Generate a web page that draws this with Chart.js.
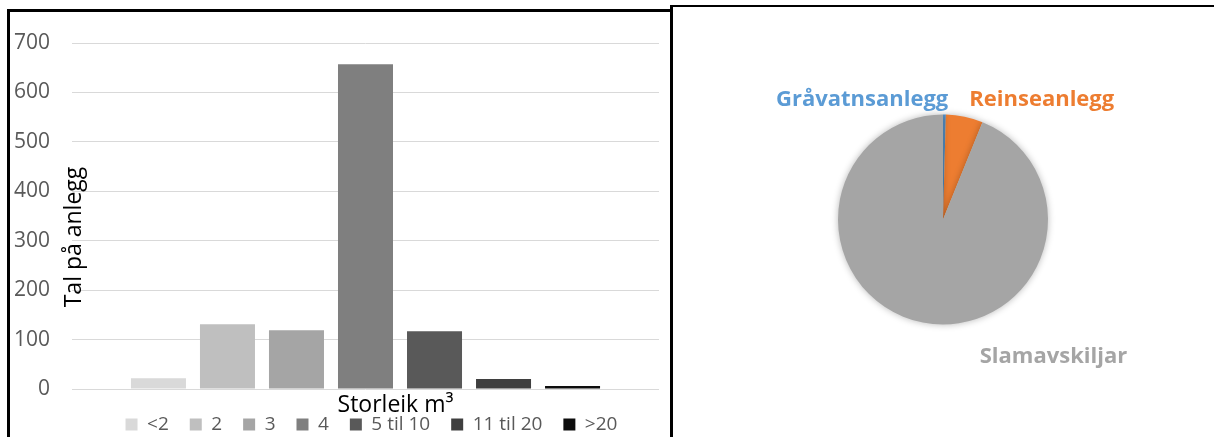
<!DOCTYPE html>
<html>
<head>
<meta charset="utf-8">
<title>Storleik og type anlegg</title>
<script src="https://cdn.jsdelivr.net/npm/chart.js@4.4.1/dist/chart.umd.min.js"></script>
<style>
    html, body { margin: 0; padding: 0; background: #fff; overflow: hidden; width: 1214px; height: 437px; }
    #barBox { position: absolute; left: 7px; top: 9px; width: 660px; height: 440px; border: 3px solid #000; }
    #pieBox { position: absolute; left: 670px; top: 5px; width: 560px; height: 440px; border-top: 2px solid #000; border-left: 3px solid #000; }
    canvas { display: block; }
</style>
</head>
<body>
<div id="barBox"><canvas id="barChart"></canvas></div>
<div id="pieBox"><canvas id="pieChart"></canvas></div>

<script>
// storleik på slamavskiljarar (m3) og tal på anlegg
const sizeLabels = ['<2', '2', '3', '4', '5 til 10', '11 til 20', '>20'];
const sizeCounts = [22, 131, 119, 657, 117, 20, 6];
const sizeColours = ['#d9d9d9', '#bfbfbf', '#a5a5a5', '#7f7f7f', '#595959', '#3f3f3f', '#0d0d0d'];
const yMax = 700;
const yStep = 100;
const yTitle = 'Tal på anlegg';
const xTitle = 'Storleik m\u00b3';

// type anlegg
const typeLabels = ['Gråvatnsanlegg', 'Reinseanlegg', 'Slamavskiljar'];
const typeCounts = [5, 65, 1070];
const typeColours = ['#5b9bd5', '#ed7d31', '#a5a5a5'];

(function() {
    'use strict';

    const FONT = '"Open Sans", "Noto Sans", sans-serif';

    // axis titles drawn the way Excel placed them
    const axisTitles = {
        id: 'axisTitles',
        afterLayout(chart) {
            // Excel's legend sits a little right of the plot centre
            chart.legend.left += 6;
            chart.legend.right += 6;
        },
        afterDraw(chart) {
            const ctx = chart.ctx;
            const area = chart.chartArea;
            ctx.save();
            ctx.fillStyle = '#000';
            ctx.font = '23px ' + FONT;
            ctx.textAlign = 'center';
            ctx.textBaseline = 'middle';
            ctx.save();
            ctx.translate(area.left + 2, (area.top + area.bottom) / 2 + 21);
            ctx.rotate(-Math.PI / 2);
            ctx.fillText(yTitle, 0, 0);
            ctx.restore();
            ctx.textBaseline = 'alphabetic';
            ctx.fillText(xTitle, (area.left + area.right) / 2 + 30, area.bottom + 23);
            ctx.restore();
        }
    };

    function initBarChart() {
        const ctx = document.getElementById('barChart').getContext('2d');
        new Chart(ctx, {
            type: 'bar',
            data: {
                labels: [''],
                datasets: sizeLabels.map(function(label, i) {
                    return {
                        label: label,
                        data: [sizeCounts[i]],
                        backgroundColor: sizeColours[i],
                        borderWidth: 0,
                        categoryPercentage: 0.823,
                        barPercentage: 0.797
                    };
                })
            },
            options: {
                responsive: true,
                maintainAspectRatio: false,
                animation: false,
                layout: { padding: { top: 31, right: 11, bottom: 8, left: 0 } },
                plugins: {
                    legend: {
                        position: 'bottom',
                        fullSize: false,
                        labels: {
                            boxWidth: 12,
                            boxHeight: 12,
                            padding: 21,
                            color: '#595959',
                            font: { family: FONT, size: 19 }
                        }
                    },
                    tooltip: { enabled: false }
                },
                scales: {
                    x: {
                        // only a spacer between plot and legend
                        afterFit: function(scale) { scale.height = 5; },
                        border: { display: false },
                        grid: { display: false },
                        ticks: { display: false }
                    },
                    y: {
                        min: 0,
                        max: yMax,
                        afterFit: function(scale) { scale.width = 62; },
                        border: { display: false },
                        // invisible tick marks push the labels left without padding the top
                        grid: { color: '#d9d9d9', tickLength: 18, tickColor: 'rgba(0,0,0,0)' },
                        ticks: {
                            stepSize: yStep,
                            padding: 4,
                            color: '#595959',
                            font: { family: FONT, size: 21 }
                        }
                    }
                }
            },
            plugins: [axisTitles]
        });
    }

    // where each slice's label sits, in pie radii from the centre
    const labelPlacement = [
        { dx: 0.05, dy: -1.08, align: 'right' },
        { dx: 0.25, dy: -1.08, align: 'left' },
        { dx: 0.35, dy: 1.37, align: 'left' }
    ];

    const pieLabels = {
        id: 'pieLabels',
        beforeDatasetsDraw(chart) {
            const ctx = chart.ctx;
            ctx.save();
            ctx.shadowColor = 'rgba(0, 0, 0, 0.28)';
            ctx.shadowBlur = 7;
        },
        afterDatasetsDraw(chart) {
            chart.ctx.restore();
        },
        afterDraw(chart) {
            const ctx = chart.ctx;
            const arcs = chart.getDatasetMeta(0).data;
            ctx.save();
            ctx.font = 'bold 22px ' + FONT;
            ctx.textBaseline = 'alphabetic';
            arcs.forEach(function(arc, i) {
                const p = labelPlacement[i];
                ctx.fillStyle = typeColours[i];
                ctx.textAlign = p.align;
                ctx.fillText(typeLabels[i], arc.x + p.dx * arc.outerRadius, arc.y + p.dy * arc.outerRadius);
            });
            ctx.restore();
        }
    };

    function initPieChart() {
        const ctx = document.getElementById('pieChart').getContext('2d');
        new Chart(ctx, {
            type: 'pie',
            data: {
                labels: typeLabels,
                datasets: [{
                    data: typeCounts,
                    backgroundColor: typeColours,
                    borderWidth: 0
                }]
            },
            options: {
                responsive: true,
                maintainAspectRatio: false,
                animation: false,
                layout: { padding: { top: 107.5, right: 185, bottom: 122.5, left: 165 } },
                plugins: {
                    legend: { display: false },
                    tooltip: { enabled: false }
                }
            },
            plugins: [pieLabels]
        });
    }

    initBarChart();
    initPieChart();
})();
</script>
</body>
</html>
